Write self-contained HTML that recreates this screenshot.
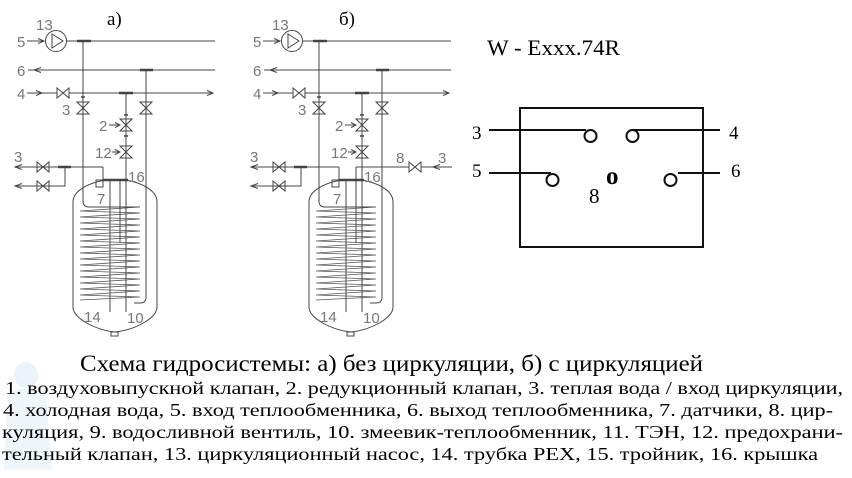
<!DOCTYPE html>
<html><head><meta charset="utf-8">
<style>
html,body{margin:0;padding:0;background:#fff;}
svg{display:block;}
.l{font-family:"Liberation Sans",sans-serif;font-size:15px;fill:#777;}
.s{font-family:"Liberation Serif","Noto Serif CJK SC",serif;fill:#000;}
</style></head>
<body>
<svg width="852" height="478" viewBox="0 0 852 478" xmlns="http://www.w3.org/2000/svg">
<defs>
<g id="sys" fill="none" stroke="#444" stroke-width="1">
  <!-- line 5 -->
  <line x1="27" y1="41" x2="44" y2="41"/>
  <polyline points="38,38.5 44,41 38,43.5"/>
  <circle cx="56" cy="41" r="10.5"/>
  <polygon points="52,34 52,48 63,41"/>
  <line x1="67" y1="41" x2="215" y2="41"/>
  <line x1="77" y1="41" x2="91" y2="41" stroke-width="2.5"/>
  <path d="M83,41 V201 Q83,207 89,207 H140"/>
  <!-- line 6 -->
  <line x1="28" y1="70" x2="215" y2="70"/>
  <polyline points="41,67.5 34,70 41,72.5"/>
  <line x1="140" y1="70" x2="153" y2="70" stroke-width="2.5"/>
  <path d="M146,70 V297 Q146,303 140,303 H134"/>
  <!-- line 4 -->
  <line x1="27" y1="93" x2="57" y2="93"/>
  <polyline points="36,90.5 42,93 36,95.5"/>
  <path d="M57,88 L69,98 L69,88 L57,98 Z"/>
  <line x1="69" y1="93" x2="213" y2="93"/>
  <polyline points="207,90.5 213,93 207,95.5"/>
  <line x1="119" y1="93" x2="133" y2="93" stroke-width="2.5"/>
  <line x1="126" y1="93" x2="126" y2="312"/>
  <!-- vertical valves -->
  <path d="M77,102 L89,102 L77,114 L89,114 Z"/>
  <path d="M140,102 L152,102 L140,114 L152,114 Z"/>
  <path d="M120,119 L132,119 L120,131 L132,131 Z"/>
  <path d="M120,146 L132,146 L120,158 L132,158 Z"/>
  <line x1="81" y1="97" x2="85" y2="97" stroke-width="1.5"/>
  <line x1="124" y1="115" x2="128" y2="115" stroke-width="1.5"/>
  <line x1="124" y1="136" x2="128" y2="136" stroke-width="1.5"/>
  <line x1="109" y1="125" x2="120" y2="125"/>
  <polyline points="115,122.5 120,125 115,127.5"/>
  <line x1="112" y1="152" x2="120" y2="152"/>
  <polyline points="115,149.5 120,152 115,154.5"/>
  <!-- lower-left lines -->
  <line x1="15" y1="167" x2="103" y2="167"/>
  <polyline points="22,164.5 15,167 22,169.5"/>
  <path d="M37,162 L49,172 L49,162 L37,172 Z"/>
  <line x1="58" y1="167" x2="71" y2="167" stroke-width="2.5"/>
  <polyline points="65,167 65,186 15,186"/>
  <polyline points="22,183.5 15,186 22,188.5"/>
  <path d="M37,181 L49,191 L49,181 L37,191 Z"/>
  <line x1="103" y1="167" x2="103" y2="180"/>
  <rect x="96" y="180" width="7" height="7"/>
  <line x1="103" y1="180" x2="128" y2="180" stroke-width="2.5"/>
  <!-- tank -->
  <path d="M73,307 V202 C73,190 90,183 103,180.5 M128,180.5 C141,183 157,190 157,202 V307"/>
  <path d="M73,307 C73,318 95,330 115,332 C135,330 157,318 157,307"/>
  <rect x="111" y="332" width="7" height="4"/>
  <line x1="110" y1="180" x2="110" y2="312"/>
  <line x1="120" y1="180" x2="120" y2="243"/>
  <polyline stroke="#555" stroke-width="0.8" points="140,207 80,211 140,213 80,217 140,219 80,223 140,225 80,229 140,231 80,235 140,237 80,241 140,243 80,247 140,249 80,253 140,255 80,259 140,261 80,265 140,267 80,271 140,273 80,277 140,279 80,283 140,285 80,289 140,291 80,295 140,297 80,300"/>
</g>
</defs>

<!-- faint watermark left -->
<g opacity="0.5">
<ellipse cx="26" cy="375" rx="12" ry="13" fill="#dbe8f3"/>
<path d="M8,392 Q26,385 46,392 L52,470 L4,470 Z" fill="#e3edf6"/>
</g>

<use href="#sys"/>
<use href="#sys" transform="translate(236,0)"/>

<g fill="none" stroke="#444" stroke-width="1">
  <line x1="356" y1="167" x2="452" y2="167"/>
  <line x1="356" y1="167" x2="356" y2="180"/>
  <path d="M409,162 L421,172 L421,162 L409,172 Z" fill="#fff"/>
  <polyline points="440,164.5 433,167 440,169.5"/>
</g>

<!-- labels a -->
<text class="l" x="36" y="30">13</text>
<text class="l" x="17" y="47">5</text>
<text class="l" x="17" y="76">6</text>
<text class="l" x="17" y="99">4</text>
<text class="l" x="62" y="115">3</text>
<text class="l" x="99" y="131">2</text>
<text class="l" x="95" y="158">12</text>
<text class="l" x="14" y="162">3</text>
<text class="l" x="128" y="182">16</text>
<text class="l" x="97" y="204">7</text>
<text class="l" x="84" y="322">14</text>
<text class="l" x="127" y="323">10</text>
<!-- labels b -->
<text class="l" x="272" y="30">13</text>
<text class="l" x="253" y="47">5</text>
<text class="l" x="253" y="76">6</text>
<text class="l" x="253" y="99">4</text>
<text class="l" x="298" y="115">3</text>
<text class="l" x="335" y="131">2</text>
<text class="l" x="331" y="158">12</text>
<text class="l" x="250" y="162">3</text>
<text class="l" x="364" y="182">16</text>
<text class="l" x="333" y="204">7</text>
<text class="l" x="320" y="322">14</text>
<text class="l" x="363" y="323">10</text>
<text class="l" x="396" y="163">8</text>
<text class="l" x="438" y="163">3</text>

<text class="s" x="107" y="25" font-size="19">а)</text>
<text class="s" x="339" y="25" font-size="19">б)</text>

<!-- right diagram -->
<text class="s" x="487" y="55" font-size="22" textLength="133" lengthAdjust="spacingAndGlyphs">W - Exxx.74R</text>
<g fill="none" stroke="#111" stroke-width="2">
  <rect x="520" y="108" width="183" height="139"/>
  <line x1="489" y1="130" x2="586" y2="130"/>
  <line x1="633" y1="130" x2="720" y2="130"/>
  <line x1="489" y1="173" x2="551" y2="173"/>
  <line x1="678" y1="173" x2="720" y2="173"/>
  <circle cx="590.5" cy="136" r="6"/>
  <circle cx="632.5" cy="136" r="6"/>
  <circle cx="552.5" cy="180" r="6"/>
  <circle cx="670.5" cy="180" r="6"/>
</g>
<text class="s" x="472" y="139" font-size="19">3</text>
<text class="s" x="729" y="139" font-size="19">4</text>
<text class="s" x="472" y="177" font-size="19">5</text>
<text class="s" x="731" y="177" font-size="19">6</text>
<text class="s" x="589" y="203" font-size="21">8</text>
<text class="s" x="606" y="184" font-size="25" font-weight="bold">o</text>

<!-- caption -->
<text class="s" x="80" y="371" font-size="23" textLength="623" lengthAdjust="spacingAndGlyphs">Схема гидросистемы: а) без циркуляции,   б) с циркуляцией</text>
<text class="s" x="5" y="394" font-size="18" textLength="838" lengthAdjust="spacingAndGlyphs">1. воздуховыпускной клапан, 2. редукционный клапан, 3. теплая вода / вход циркуляции,</text>
<text class="s" x="3" y="416" font-size="18" textLength="830" lengthAdjust="spacingAndGlyphs">4. холодная вода, 5. вход теплообменника, 6. выход теплообменника, 7. датчики, 8. цир-</text>
<text class="s" x="2" y="438" font-size="18" textLength="841" lengthAdjust="spacingAndGlyphs">куляция,  9. водосливной вентиль, 10. змеевик-теплообменник, 11. ТЭН, 12. предохрани-</text>
<text class="s" x="2" y="460" font-size="18" textLength="816" lengthAdjust="spacingAndGlyphs">тельный  клапан, 13. циркуляционный насос, 14. трубка PEX, 15. тройник, 16. крышка</text>
</svg>
</body></html>
